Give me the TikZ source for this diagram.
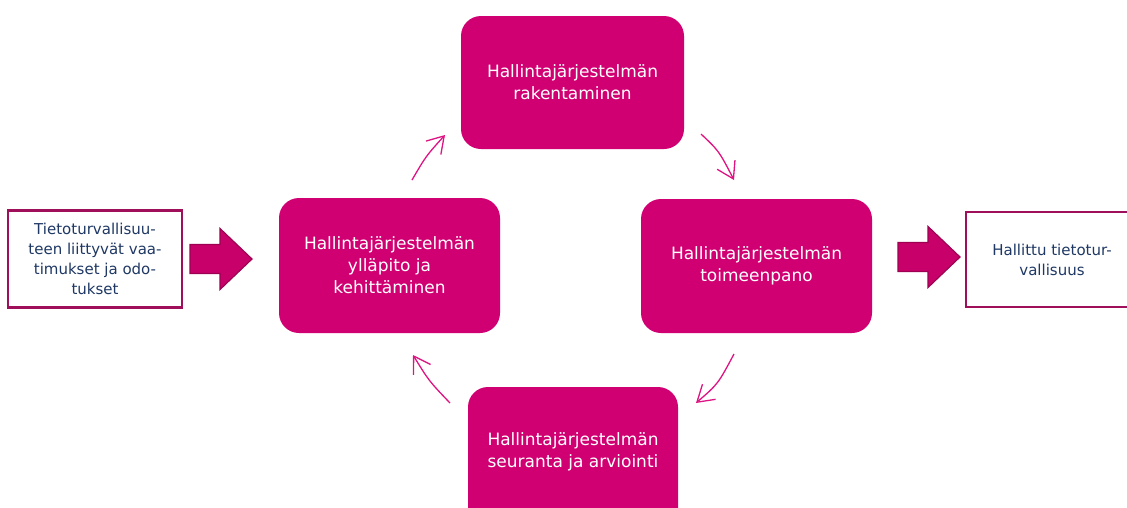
\documentclass[tikz,border=0pt]{standalone}
\usepackage{fontspec}
\setmainfont{DejaVu Sans}
\usetikzlibrary{arrows.meta}
\definecolor{boxmag}{RGB}{208,0,114}
\definecolor{arrfill}{RGB}{200,0,106}
\definecolor{arrline}{RGB}{158,0,82}
\definecolor{framecol}{RGB}{160,16,90}
\definecolor{curvecol}{RGB}{222,20,130}
\definecolor{txtblue}{RGB}{31,56,100}
\tikzset{
  stagebox/.style={fill=boxmag, draw=none, rounded corners=20pt, text=white,
    align=center, inner sep=0pt, font=\fontsize{17}{22}\selectfont},
  framebox/.style={fill=white, draw=framecol, line width=2.5pt, text=txtblue,
    align=center, inner sep=0pt, font=\fontsize{15}{20}\selectfont},
  blockarr/.style={fill=arrfill, draw=arrline, line width=1.2pt},
  cyclearr/.style={draw=curvecol, line width=1.3pt,
    -{Straight Barb[length=16pt,width=20pt]}}
}
\newcommand\blockarrowat[1]{%
  \draw[blockarr, shift={#1}] (-31,-14.5) -- (-1,-14.5) -- (-1,-30.5) -- (31,0)
    -- (-1,30.5) -- (-1,14.5) -- (-31,14.5) -- cycle;}
\begin{document}
\begin{tikzpicture}[x=1pt,y=-1pt]
\useasboundingbox (0,0) rectangle (1127,507);
\clip (0,0) rectangle (1127,507);
\node[stagebox, minimum width=223pt, minimum height=133pt] (top) at (572.5,82.5)
  {Hallintajärjestelmän\\rakentaminen};
\node[stagebox, minimum width=221pt, minimum height=135pt] (left) at (389.5,265.5)
  {Hallintajärjestelmän\\ylläpito ja\\kehittäminen};
\node[stagebox, minimum width=231pt, minimum height=134pt] (right) at (756.5,266)
  {Hallintajärjestelmän\\toimeenpano};
\node[stagebox, minimum width=210pt, minimum height=150pt] (bottom) at (573,462)
  {};
\node[text=white, align=center, font=\fontsize{17}{22}\selectfont, inner sep=0pt] (bottomtxt) at (573,452)
  {Hallintajärjestelmän\\seuranta ja arviointi};
\node[framebox, minimum width=174pt, minimum height=97pt] (req) at (95,259)
  {Tietoturvallisuu-\\teen liittyvät vaa-\\timukset ja odo-\\tukset};
\node[framebox, minimum width=172pt, minimum height=95pt] (res) at (1052,259.5)
  {Hallittu tietotur-\\vallisuus};
\blockarrowat{(221,259)}
\blockarrowat{(929,257)}
\coordinate (a1s) at (412,180); \coordinate (a1e) at (445,135);
\coordinate (a2s) at (701,134); \coordinate (a2e) at (734,180);
\coordinate (a3s) at (734,354); \coordinate (a3e) at (696,403);
\coordinate (a4s) at (450,403); \coordinate (a4e) at (413,355);
\draw[cyclearr] (a1s) .. controls (426,156) .. (a1e);
\draw[cyclearr] (a2s) .. controls (719,151) .. (a2e);
\draw[cyclearr] (a3s) .. controls (718,384) .. (a3e);
\draw[cyclearr] (a4s) .. controls (429,381) .. (a4e);
\end{tikzpicture}
\end{document}
